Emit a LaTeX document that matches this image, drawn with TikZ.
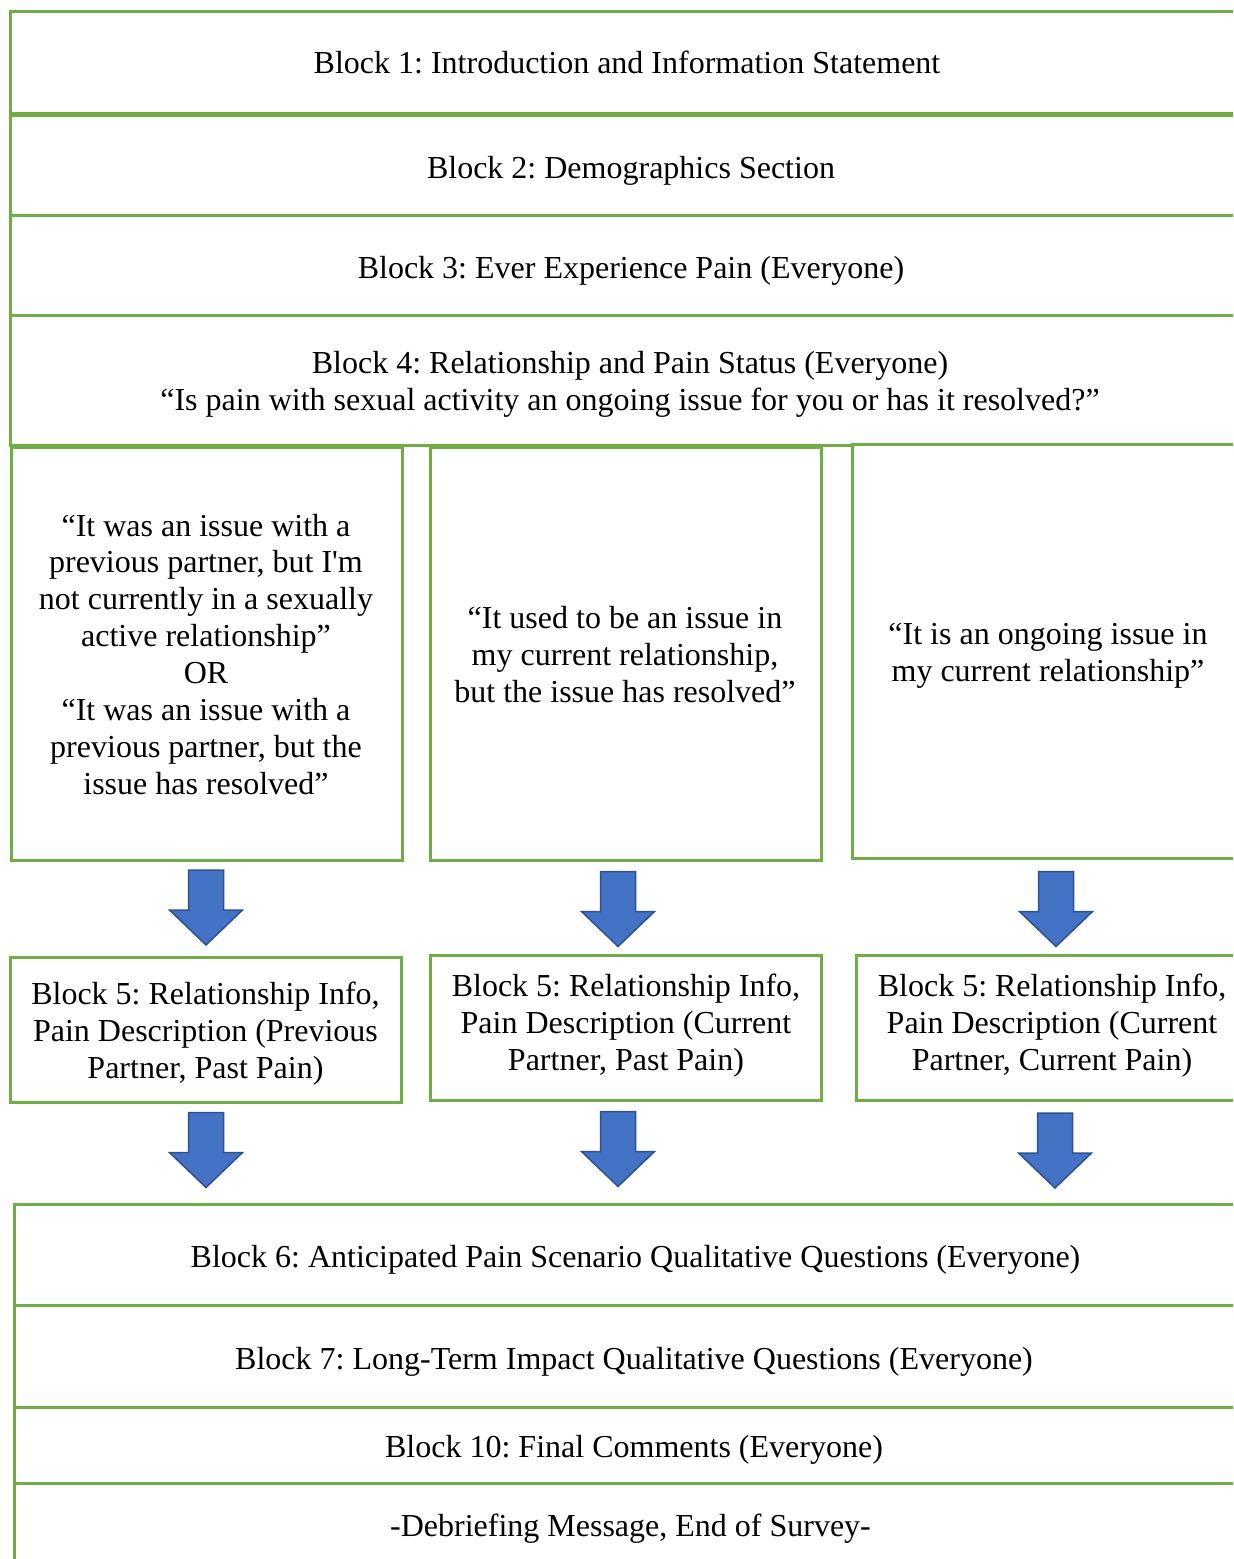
\documentclass[tikz,border=0pt]{standalone}
\usepackage{fontspec}
\setmainfont{Liberation Serif}[Ligatures=TeXOff]
\definecolor{boxgreen}{HTML}{70AD47}
\definecolor{arrfill}{HTML}{4472C4}
\definecolor{arrline}{HTML}{2F528F}
\begin{document}
\frenchspacing
\begin{tikzpicture}[x=0.5pt,y=-0.5pt,
  box/.style={draw=boxgreen,line width=1.5pt,fill=white,inner sep=0pt},
  txt/.style={align=center,inner sep=0pt,font=\fontsize{16}{18.45}\selectfont,text=black,
    execute at begin node=\strut,execute at end node=\strut},
  downarr/.pic={\filldraw[fill=arrfill,draw=arrline,line width=0.75pt,line join=miter]
    (-17.5,-37.5) -- (17.5,-37.5) -- (17.5,2.5) -- (36.5,2.5) -- (0,37.5)
    -- (-36.5,2.5) -- (-17.5,2.5) -- cycle;}]
\useasboundingbox (0,0) rectangle (1233,1559);
\clip (0,0) rectangle (1233,1559);
\fill[white] (0,0) rectangle (1233,1559);
% boxes
\node[box,minimum width=621pt,minimum height=51pt] (b1) at (631,62) {};
\node[box,minimum width=621pt,minimum height=50pt] (b2) at (631,165) {};
\node[box,minimum width=621pt,minimum height=50pt] (b3) at (631,265) {};
\node[box,minimum width=620pt,minimum height=65pt] (b4) at (630,380) {};
\node[box,minimum width=195.5pt,minimum height=206.5pt] (l) at (206.5,653.5) {};
\node[box,minimum width=195.5pt,minimum height=206.5pt] (m) at (625.5,653.5) {};
\node[box,minimum width=196pt,minimum height=207pt] (r) at (1048,651) {};
\node[box,minimum width=195.5pt,minimum height=72.5pt] (l5) at (205.5,1029.5) {};
\node[box,minimum width=195.5pt,minimum height=72.5pt] (m5) at (625.5,1027.5) {};
\node[box,minimum width=196pt,minimum height=72.5pt] (r5) at (1052,1027.5) {};
\node[box,minimum width=621pt,minimum height=50.5pt] (b6) at (635,1254.5) {};
\node[box,minimum width=620pt,minimum height=51pt] (b7) at (634,1356) {};
\node[box,minimum width=620pt,minimum height=38pt] (b10) at (634,1445) {};
\node[box,minimum width=617pt,minimum height=42pt] (b11) at (631.5,1525) {};
% texts
\node[txt] (t1) at (627,65.9) {Block 1: Introduction and Information Statement};
\node[txt] (t2) at (631,170.9) {Block 2: Demographics Section};
\node[txt] (t3) at (631,271.6) {Block 3: Ever Experience Pain (Everyone)};
\node[txt] (t4) at (630,386) {Block 4: Relationship and Pain Status (Everyone)\\“Is pain with sexual activity an ongoing issue for you or has it resolved?”};
\node[txt] (tl) at (206,659.6) {“It was an issue with a\\ previous partner, but I'm\\ not currently in a sexually\\ active relationship”\\ OR\\ “It was an issue with a\\ previous partner, but the\\ issue has resolved”};
\node[txt] (tm) at (625,659.9) {“It used to be an issue in\\ my current relationship,\\ but the issue has resolved”};
\node[txt] (tr) at (1048,658.3) {“It is an ongoing issue in\\ my current relationship”};
\node[txt] (tl5) at (205.5,1035.6) {Block 5: Relationship Info,\\ Pain Description (Previous\\ Partner, Past Pain)};
\node[txt] (tm5) at (626,1027.6) {Block 5: Relationship Info,\\ Pain Description (Current\\ Partner, Past Pain)};
\node[txt] (tr5) at (1052,1027.6) {Block 5: Relationship Info,\\ Pain Description (Current\\ Partner, Current Pain)};
\node[txt] (t6) at (635.5,1260.6) {Block 6: Anticipated Pain Scenario Qualitative Questions (Everyone)};
\node[txt] (t7) at (634,1362.6) {Block 7: Long-Term Impact Qualitative Questions (Everyone)};
\node[txt] (t10) at (634,1450.1) {Block 10: Final Comments (Everyone)};
\node[txt] (t11) at (630.5,1528.6) {-Debriefing Message, End of Survey-};
% block arrows
\pic at (206,907.5) {downarr};
\pic at (618,909) {downarr};
\pic at (1056,909) {downarr};
\pic at (206,1150) {downarr};
\pic at (618,1149) {downarr};
\pic at (1055,1150.5) {downarr};
\end{tikzpicture}
\end{document}
